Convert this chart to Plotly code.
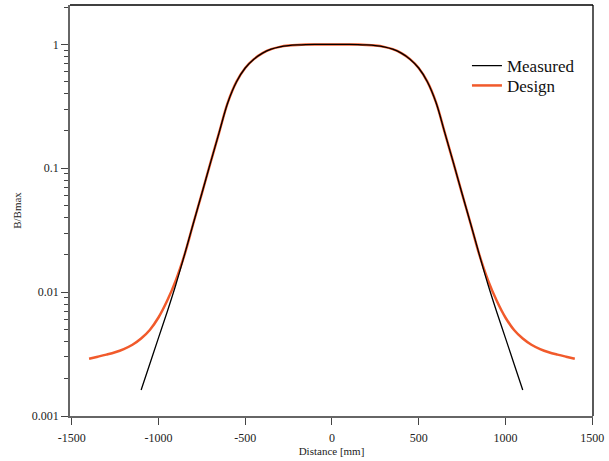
import plotly.graph_objects as go

# Design field profile (distance in mm, B/Bmax)
design_x = [-1400, -1350, -1300, -1250, -1200, -1150, -1100, -1050, -1000, -950, -900, -850,
            -800, -750, -700, -650, -600, -550, -500, -450, -400, -350, -300, -250, -200,
            -150, -100, 0, 100, 150, 200, 250, 300, 350, 400, 450, 500, 550, 600, 650, 700,
            750, 800, 850, 900, 950, 1000, 1050, 1100, 1150, 1200, 1250, 1300, 1350, 1400]
design_y = [0.00290, 0.00301, 0.00313, 0.00327, 0.00347, 0.00376, 0.00422, 0.00495, 0.00624, 0.00851, 0.01245, 0.0200,
            0.0355, 0.0625, 0.111, 0.195, 0.340, 0.500, 0.645, 0.760, 0.850, 0.915, 0.955, 0.978, 0.990,
            0.997, 1.0, 1.0, 1.0, 0.997, 0.990, 0.978, 0.955, 0.915, 0.850, 0.760, 0.645, 0.500, 0.340, 0.195, 0.111,
            0.0625, 0.0355, 0.0200, 0.01245, 0.00851, 0.00624, 0.00495, 0.00422, 0.00376, 0.00347, 0.00327, 0.00313, 0.00301, 0.00290]

# Measured field profile
measured_x = [-1100, -1050, -1000, -950, -900, -850, -800, -750, -700, -650, -600, -550, -500,
              -450, -400, -350, -300, -250, -200, -150, -100, 0, 100, 150, 200, 250, 300, 350,
              400, 450, 500, 550, 600, 650, 700, 750, 800, 850, 900, 950, 1000, 1050, 1100]
measured_y = [0.00162, 0.00263, 0.00427, 0.00692, 0.01148, 0.0200, 0.0355, 0.0625, 0.111, 0.195, 0.340, 0.500, 0.645,
              0.760, 0.850, 0.915, 0.955, 0.978, 0.990, 0.997, 1.0, 1.0, 1.0, 0.997, 0.990, 0.978, 0.955, 0.915,
              0.850, 0.760, 0.645, 0.500, 0.340, 0.195, 0.111, 0.0625, 0.0355, 0.0200, 0.01148, 0.00692, 0.00427, 0.00263, 0.00162]

x_ticks = [-1500, -1000, -500, 0, 500, 1000, 1500]
x_ticklabels = ["-1500", "-1000", "-500", "0", "500", "1000", "1500"]
y_ticks = [0.001, 0.01, 0.1, 1]
y_ticklabels = ["0.001", "0.01", "0.1", "1"]
y_minor = [m * d for d in (0.001, 0.01, 0.1, 1) for m in range(2, 10)]

FONT = "Liberation Serif"

fig = go.Figure()
fig.add_trace(go.Scatter(x=design_x, y=design_y, mode="lines", name="Design", legend="legend2",
                         line=dict(color="#f15a2b", width=2.5, shape="spline", smoothing=1.0)))
fig.add_trace(go.Scatter(x=measured_x, y=measured_y, mode="lines", name="Measured", legend="legend",
                         line=dict(color="#000000", width=1.3, shape="spline", smoothing=1.0)))

leg_common = dict(xanchor="left", yanchor="top", font=dict(family=FONT, size=17, color="#111111"),
                  bgcolor="rgba(0,0,0,0)", itemwidth=30)

fig.update_layout(
    width=609, height=461,
    margin=dict(l=70, r=16, t=5, b=43),
    paper_bgcolor="white", plot_bgcolor="white",
    font=dict(family=FONT, color="#222222"),
    showlegend=True,
    legend=dict(x=0.759, y=0.895, **leg_common),
    legend2=dict(x=0.759, y=0.847, **leg_common),
    xaxis=dict(range=[-1510, 1505], tickvals=x_ticks, ticktext=x_ticklabels,
               showgrid=False, zeroline=False, showline=True, linecolor="#666666", linewidth=1.5,
               ticks="outside", ticklen=7, tickcolor="#444444", tickwidth=1.2,
               ticklabelstandoff=3,
               tickfont=dict(family=FONT, size=12, color="#222222"),
               title=dict(text="Distance [mm]", font=dict(family=FONT, size=11, color="#222222"), standoff=3)),
    yaxis=dict(type="log", range=[-3, 0.318], tickvals=y_ticks, ticktext=y_ticklabels,
               showgrid=False, zeroline=False, showline=True, linecolor="#666666", linewidth=1.5,
               ticks="outside", ticklen=7, tickcolor="#444444", tickwidth=1.2,
               tickfont=dict(family=FONT, size=12, color="#222222"),
               minor=dict(tickvals=y_minor, ticks="outside", ticklen=4, tickcolor="#444444", tickwidth=1.2, showgrid=False),
               title=dict(text="B/Bmax", font=dict(family=FONT, size=11, color="#222222"), standoff=8)),
    shapes=[
        dict(type="line", xref="paper", yref="paper", x0=0, x1=1, y0=1, y1=1, line=dict(color="black", width=1.3)),
        dict(type="line", xref="paper", yref="paper", x0=1, x1=1, y0=0, y1=1, line=dict(color="black", width=1.3)),
    ],
)

fig.write_html("out.html", config={"displayModeBar": False},
               post_script="document.body.style.margin='0';document.body.style.padding='0';")
